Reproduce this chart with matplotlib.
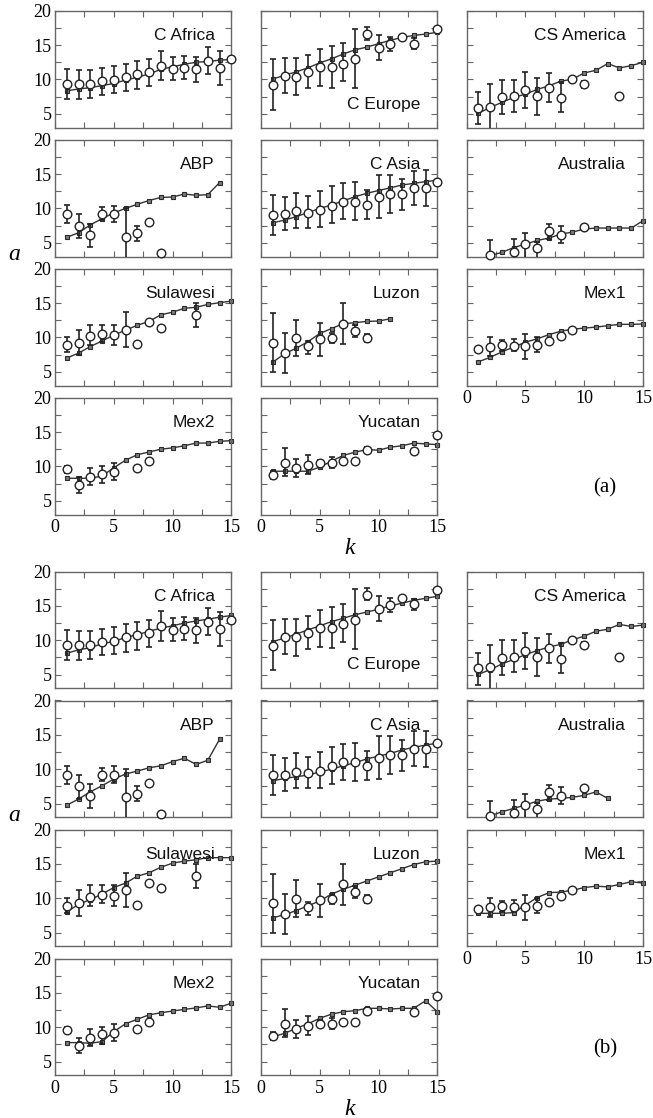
import numpy as np
import matplotlib
matplotlib.use("Agg")
import matplotlib.pyplot as plt

SERIF = ["Liberation Serif", "DejaVu Serif"]
SANS = ["Liberation Sans", "DejaVu Sans"]
plt.rcParams["font.family"] = SERIF

N = None
K15 = list(range(1, 16))

# ---------------- data (observations shared by (a) and (b)) ----------------
cafr_k = K15
cafr_obs = [9.27, 9.27, 9.3, 9.76, 9.95, 10.4, 10.8, 11.1, 12.0, 11.5, 11.7, 11.5, 12.7, 11.65, 12.9]
cafr_lo = [7.1, 7.1, 7.3, 7.8, 8.0, 8.3, 8.6, 9.0, 9.9, 9.9, 10.0, 9.6, 10.8, 9.2, N]
cafr_hi = [11.45, 11.4, 11.4, 11.7, 11.9, 12.3, 12.7, 12.9, 14.2, 13.2, 13.4, 13.3, 14.7, 14.1, N]
cafr_mk = K15
cafr_ma = [8.35, 8.6, 8.8, 9.1, 9.4, 9.9, 10.3, 10.8, 11.45, 11.85, 12.2, 12.5, 12.6, 12.8, 12.9]
cafr_mb = [8.1, 8.6, 8.9, 9.5, 9.8, 10.4, 10.8, 11.3, 11.75, 12.1, 12.5, 12.8, 13.05, 13.35, 13.6]

ceur_k = [1, 2, 3, 4, 5, 6, 7, 8, 9, 10, 11, 12, 13, 15]
ceur_obs = [9.2, 10.45, 10.4, 11.1, 11.8, 11.8, 12.3, 13.0, 16.6, 14.6, 15.1, 16.1, 15.2, 17.35]
ceur_lo = [5.6, 8.0, 7.7, 8.7, 9.0, 8.8, 9.8, 8.7, 15.8, 12.8, 14.1, N, 14.4, N]
ceur_hi = [12.9, 13.05, 13.05, 13.5, 14.4, 14.9, 15.3, 17.4, 17.6, 16.5, 16.2, N, 16.0, N]
ceur_mk = K15
ceur_ma = [10.05, 10.6, 11.1, 11.7, 12.4, 13.0, 13.7, 14.3, 14.7, 15.2, 15.7, 16.1, 16.4, 16.6, 16.85]
ceur_mb = [9.8, 10.3, 10.9, 11.5, 12.1, 12.7, 13.2, 13.7, 14.1, 14.5, 15.0, 15.4, 15.8, 16.1, 16.4]

csam_k = [1, 2, 3, 4, 5, 6, 7, 8, 9, 10, 13]
csam_obs = [5.89, 6.03, 7.48, 7.57, 8.44, 7.57, 8.82, 7.24, 10.03, 9.26, 7.57]
csam_lo = [3.5, 2.0, 4.97, 5.3, 5.79, 4.83, 6.75, 5.21, N, 8.82, N]
csam_hi = [8.2, 9.3, 9.98, 9.98, 11.09, 10.27, 10.94, 9.64, N, 9.74, N]
csam_mk = K15
csam_ma = [5.07, 5.93, 6.66, 7.38, 7.86, 8.54, 9.07, 9.74, 10.03, 10.94, 11.33, 12.3, 11.67, 12.0, 12.49]
csam_mb = [5.05, 5.7, 6.55, 7.2, 7.9, 8.5, 9.0, 9.4, 10.05, 10.6, 11.3, 11.6, 12.3, 12.0, 12.2]

abp_k = [1, 2, 3, 4, 5, 6, 7, 8, 9]
abp_obs = [9.2, 7.5, 6.1, 9.2, 9.2, 5.9, 6.4, 8.0, 3.45]
abp_lo = [7.9, 5.7, 4.4, 8.3, 8.0, 0.0, 5.3, N, N]
abp_hi = [10.5, 9.2, 7.8, 10.2, 10.4, 10.0, 7.5, N, N]
abp_mk = list(range(1, 15))
abp_ma = [5.8, 6.45, 7.6, 8.5, 9.35, 10.0, 10.6, 11.15, 11.6, 11.65, 12.1, 11.9, 12.0, 13.75]
abp_mb = [4.77, 5.65, 6.7, 7.6, 8.56, 9.3, 9.73, 10.2, 10.5, 11.1, 11.6, 10.7, 11.3, 14.35]

casi_k = K15
casi_obs = [9.1, 9.2, 9.6, 9.4, 9.7, 10.4, 11.0, 11.0, 10.5, 11.7, 12.1, 12.1, 12.9, 12.9, 13.85]
casi_lo = [6.2, 6.8, 7.2, 7.2, 7.3, 7.9, 8.5, 8.3, 8.4, 8.6, 9.3, 9.8, 10.5, 10.3, N]
casi_hi = [12.0, 11.6, 12.3, 11.8, 12.5, 13.2, 13.7, 13.8, 12.7, 14.8, 14.9, 14.3, 15.5, 15.6, N]
casi_mk = K15
casi_ma = [7.9, 8.3, 8.8, 9.4, 10.0, 10.5, 11.1, 11.7, 12.2, 12.6, 13.0, 13.4, 13.65, 13.9, 14.1]
casi_mb = [8.3, 8.66, 8.9, 9.15, 9.6, 10.0, 10.5, 10.95, 11.5, 11.9, 12.3, 12.8, 13.2, 13.5, 13.8]

aust_k = [2, 4, 5, 6, 7, 8, 10]
aust_obs = [3.16, 3.6, 4.8, 4.22, 6.65, 6.17, 7.28]
aust_lo = [2.0, 2.0, 2.0, 2.0, 5.53, 4.95, N]
aust_hi = [5.34, 5.53, 6.4, 5.05, 7.77, 7.38, N]
aust_mk_a = list(range(2, 16))
aust_ma = [3.15, 3.6, 4.3, 4.8, 5.34, 5.68, 6.26, 6.55, 7.0, 7.14, 7.14, 7.14, 7.14, 8.2]
aust_mk_b = list(range(2, 13))
aust_mb = [3.2, 3.8, 4.3, 4.8, 5.35, 5.65, 5.75, 5.9, 6.2, 6.7, 5.75]

sula_k = [1, 2, 3, 4, 5, 6, 7, 8, 9, 12]
sula_obs = [8.9, 9.24, 10.24, 10.52, 10.38, 11.14, 9.05, 12.24, 11.43, 13.2]
sula_lo = [7.86, 7.48, 8.9, 9.29, 8.9, 8.67, N, N, N, 11.5]
sula_hi = [10.1, 11.14, 11.86, 11.86, 11.86, 13.67, N, N, N, 15.0]
sula_mk = K15
sula_ma = [7.0, 7.71, 8.67, 9.48, 10.33, 11.05, 11.76, 12.33, 13.29, 13.67, 14.24, 14.38, 14.8, 15.05, 15.29]
sula_mb = [8.0, 9.1, 9.8, 10.6, 11.55, 12.2, 13.2, 13.7, 14.5, 15.1, 15.4, 15.6, 15.9, 15.9, 15.9]

luzo_k = [1, 2, 3, 4, 5, 6, 7, 8, 9]
luzo_obs = [9.24, 7.71, 9.95, 8.76, 9.76, 9.95, 12.0, 10.95, 9.95]
luzo_lo = [5.0, 4.76, 7.24, 7.57, 7.33, 9.14, 9.0, 10.1, 9.29]
luzo_hi = [13.5, 10.57, 12.6, 9.48, 12.14, 10.57, 15.0, 11.76, 10.43]
luzo_mk_a = list(range(1, 12))
luzo_ma = [6.38, 7.62, 8.43, 9.38, 10.57, 11.29, 12.0, 12.14, 12.33, 12.38, 12.71]
luzo_mk_b = K15
luzo_mb = [7.15, 7.6, 8.2, 8.9, 9.6, 10.6, 11.3, 11.9, 12.5, 13.1, 13.7, 14.3, 14.9, 15.3, 15.4]

mex1_k = [1, 2, 3, 4, 5, 6, 7, 8, 9]
mex1_obs = [8.36, 8.65, 8.88, 8.77, 8.68, 8.92, 9.5, 10.25, 11.15]
mex1_lo = [N, 7.3, 8.0, 8.0, 6.8, 7.9, N, N, N]
mex1_hi = [N, 10.1, 9.6, 9.7, 10.5, 10.0, N, N, N]
mex1_mk = K15
mex1_ma = [6.45, 7.1, 7.9, 8.6, 9.3, 9.8, 10.4, 10.9, 11.2, 11.35, 11.5, 11.7, 11.9, 11.9, 11.95]
mex1_mb = [7.8, 7.8, 7.8, 7.9, 9.0, 10.1, 10.8, 10.9, 11.15, 11.55, 11.75, 11.65, 12.0, 12.4, 12.2]

mex2_k = [1, 2, 3, 4, 5, 7, 8]
mex2_obs = [9.57, 7.26, 8.46, 8.94, 9.2, 9.7, 10.8]
mex2_lo = [9.1, 6.2, 7.3, 7.6, 8.0, N, N]
mex2_hi = [10.05, 8.4, 9.8, 10.1, 10.5, N, N]
mex2_mk = K15
mex2_ma = [8.27, 8.27, 8.27, 8.6, 9.8, 10.9, 11.7, 12.1, 12.5, 12.7, 13.0, 13.4, 13.4, 13.65, 13.75]
mex2_mb = [7.76, 7.76, 7.66, 7.9, 9.35, 10.5, 11.15, 11.8, 12.1, 12.35, 12.6, 12.8, 13.1, 12.9, 13.5]

yuca_k = [1, 2, 3, 4, 5, 6, 7, 8, 9, 13, 15]
yuca_obs = [8.75, 10.5, 9.8, 10.14, 10.5, 10.5, 10.77, 10.77, 12.36, 12.2, 14.5]
yuca_lo = [8.2, 8.6, 8.5, 8.85, 10.0, 9.8, N, N, 11.9, N, N]
yuca_hi = [9.3, 12.7, 11.1, 11.6, 11.0, 11.3, N, N, 12.8, N, N]
yuca_mk = K15
yuca_ma = [9.3, 9.3, 9.3, 9.3, 9.9, 10.77, 11.6, 12.07, 12.45, 12.36, 12.8, 13.0, 13.4, 13.27, 13.17]
yuca_mb = [8.6, 9.1, 9.85, 10.5, 11.3, 11.9, 12.26, 12.4, 12.75, 12.75, 12.65, 12.75, 12.75, 13.85, 12.26]

region_names = ["C Africa", "C Europe", "CS America", "ABP", "C Asia", "Australia",
                "Sulawesi", "Luzon", "Mex1", "Mex2", "Yucatan"]
x_tick_values = [0, 2.5, 5, 7.5, 10, 12.5, 15]
x_tick_labels = ["0", "", "5", "", "10", "", "15"]
y_tick_values = [5, 7.5, 10, 12.5, 15, 17.5, 20]
y_tick_labels = ["5", "", "10", "", "15", "", "20"]

regions = [
    (cafr_k, cafr_obs, cafr_lo, cafr_hi, cafr_mk, cafr_ma, cafr_mk, cafr_mb),
    (ceur_k, ceur_obs, ceur_lo, ceur_hi, ceur_mk, ceur_ma, ceur_mk, ceur_mb),
    (csam_k, csam_obs, csam_lo, csam_hi, csam_mk, csam_ma, csam_mk, csam_mb),
    (abp_k, abp_obs, abp_lo, abp_hi, abp_mk, abp_ma, abp_mk, abp_mb),
    (casi_k, casi_obs, casi_lo, casi_hi, casi_mk, casi_ma, casi_mk, casi_mb),
    (aust_k, aust_obs, aust_lo, aust_hi, aust_mk_a, aust_ma, aust_mk_b, aust_mb),
    (sula_k, sula_obs, sula_lo, sula_hi, sula_mk, sula_ma, sula_mk, sula_mb),
    (luzo_k, luzo_obs, luzo_lo, luzo_hi, luzo_mk_a, luzo_ma, luzo_mk_b, luzo_mb),
    (mex1_k, mex1_obs, mex1_lo, mex1_hi, mex1_mk, mex1_ma, mex1_mk, mex1_mb),
    (mex2_k, mex2_obs, mex2_lo, mex2_hi, mex2_mk, mex2_ma, mex2_mk, mex2_mb),
    (yuca_k, yuca_obs, yuca_lo, yuca_hi, yuca_mk, yuca_ma, yuca_mk, yuca_mb),
]
grid_pos = [(0, 0), (0, 1), (0, 2), (1, 0), (1, 1), (1, 2), (2, 0), (2, 1), (2, 2), (3, 0), (3, 1)]

# ---------------- layout ----------------
W, H = 653, 1118
fig = plt.figure(figsize=(W / 100, H / 100), dpi=100)
col_x = [55, 261, 466.7]
ax_w = 176.3
ax_h = 116.8
row_pitch = 129.0
fig_tops = [10.7, 571.5]

dark = "#222222"
spine_c = "#666666"

for fi, top0 in enumerate(fig_tops):
    for ri, (r, c) in enumerate(grid_pos):
        k, obs, lo, hi, mk_a, ma, mk_b, mb = regions[ri]
        mk = mk_a if fi == 0 else mk_b
        mv = ma if fi == 0 else mb
        top = top0 + r * row_pitch
        ax = fig.add_axes([col_x[c] / W, 1 - (top + ax_h) / H, ax_w / W, ax_h / H])
        ax.set_xlim(0, 15)
        ax.set_ylim(3, 20)

        # model curve
        ax.plot(mk, mv, color="#333333", lw=1.0, marker="s", ms=3.0,
                mfc="#7a7a7a", mec="#2a2a2a", mew=0.8, zorder=2, clip_on=False)

        # observations with error bars
        k_arr = np.array(k, dtype=float)
        o_arr = np.array(obs, dtype=float)
        lo_arr = np.array(lo, dtype=float)
        hi_arr = np.array(hi, dtype=float)
        m = ~np.isnan(lo_arr)
        if m.any():
            ax.errorbar(k_arr[m], o_arr[m],
                        yerr=[o_arr[m] - lo_arr[m], hi_arr[m] - o_arr[m]],
                        fmt="none", ecolor=dark, elinewidth=1.2, capsize=2.0,
                        capthick=1.2, zorder=3)
        ax.plot(k_arr, o_arr, linestyle="none", marker="o", ms=6.2, mfc="white",
                mec=dark, mew=1.0, zorder=4, clip_on=False)

        # title
        ty = 0.2 if region_names[ri] == "C Europe" else 0.785
        ax.text(0.905, ty, region_names[ri], transform=ax.transAxes, ha="right",
                va="center", fontsize=12.5, family=SANS, color="#111111")

        # ticks
        ax.set_xticks(x_tick_values)
        ax.set_yticks(y_tick_values)
        bottom_panel = (r == 3) or (r == 2 and c == 2)
        ax.set_xticklabels(x_tick_labels if bottom_panel else [""] * len(x_tick_values),
                           fontfamily=SERIF)
        ax.set_yticklabels(y_tick_labels if c == 0 else [""] * len(y_tick_values),
                           fontfamily=SERIF)
        ax.tick_params(direction="in", length=4, width=0.8, color=spine_c,
                       top=True, right=True, labelsize=13, pad=3.5)
        ax.tick_params(axis="y", pad=2.5)
        for sp in ax.spines.values():
            sp.set_color(spine_c)
            sp.set_linewidth(1.0)

    # axis labels and panel tag
    fig.text(14 / W, 1 - (top0 + 244) / H, "a", fontsize=17, style="italic",
             family=SERIF, ha="center", va="center")
    fig.text(350 / W, 1 - (top0 + 538) / H, "k", fontsize=17, style="italic",
             family=SERIF, ha="center", va="center")
    fig.text(605 / W, 1 - (top0 + 477) / H, "(a)" if fi == 0 else "(b)",
             fontsize=15, family=SERIF, ha="center", va="center")

fig.savefig("out.png", dpi=100, facecolor="white")
